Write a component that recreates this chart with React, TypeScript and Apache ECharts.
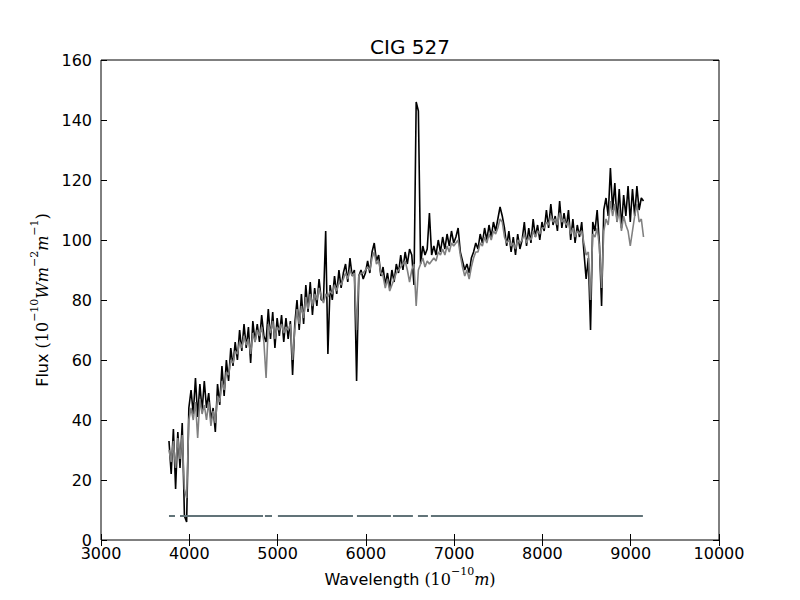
import React, { useEffect, useRef } from "react";
import * as echarts from "echarts";

// Wavelength sampling grid of the spectrum (Angstrom)
const WL_START = 3770;
const WL_STEP = 25;

// Observed flux (black), one row per 250 Angstrom
const observedFlux: number[] = [
  33, 22, 37, 17, 36, 24, 39, 8, 6, 44,
  50, 42, 54, 41, 52, 43, 53, 44, 49, 40,
  44, 36, 52, 45, 58, 48, 60, 53, 64, 58,
  66, 60, 70, 63, 72, 64, 71, 59, 73, 66,
  72, 66, 75, 68, 66, 77, 67, 76, 64, 74,
  68, 75, 66, 74, 67, 73, 55, 72, 80, 70,
  82, 72, 85, 76, 86, 75, 84, 78, 87, 80,
  80, 103, 62, 85, 80, 88, 82, 90, 84, 89,
  92, 86, 94, 88, 90, 53, 88, 90, 87, 89,
  93, 89, 96, 99, 93, 95, 88, 91, 85, 89,
  84, 90, 86, 92, 89, 95, 90, 96, 92, 97,
  95, 85, 146, 143, 92, 98, 95, 97, 109, 95,
  98, 95, 100, 96, 101, 97, 102, 98, 103, 99,
  101, 104, 96, 93, 90, 92, 89, 94, 96, 99,
  97, 102, 99, 104, 100, 105, 101, 106, 103, 107,
  111, 108, 104, 98, 103, 96, 101, 95, 102, 97,
  100, 106, 98, 104, 99, 107, 101, 105, 100, 106,
  103, 110, 104, 112, 105, 108, 103, 113, 104, 109,
  104, 110, 100, 107, 99, 105, 101, 106, 96, 87,
  94, 70, 106, 103, 110, 99, 78, 110, 114, 108,
  124, 110, 119, 106, 117, 104, 115, 108, 118, 106,
  117, 108, 118, 110, 114, 113,
];

// Model flux (grey)
const modelFlux: number[] = [
  30, 26, 33, 24, 34, 27, 35, 17, 14, 40,
  44, 40, 46, 34, 47, 42, 45, 40, 46, 38,
  43, 39, 48, 46, 53, 50, 56, 55, 60, 59,
  63, 62, 66, 64, 68, 65, 67, 62, 69, 66,
  70, 68, 71, 66, 54, 72, 69, 73, 67, 71,
  70, 72, 69, 71, 70, 72, 60, 70, 77, 72,
  78, 74, 81, 77, 82, 78, 82, 80, 84, 81,
  79, 82, 81, 83, 82, 85, 83, 86, 85, 87,
  89, 87, 90, 88, 89, 70, 88, 89, 89, 90,
  91, 90, 94, 96, 92, 93, 89, 88, 84, 87,
  83, 85, 87, 89, 90, 91, 92, 93, 90, 86,
  90, 92, 78, 90, 92, 94, 91, 93, 92, 93,
  94, 93, 96, 95, 97, 95, 98, 96, 99, 98,
  99, 100, 95, 91, 88, 90, 87, 91, 94, 96,
  96, 99, 98, 101, 99, 102, 100, 103, 102, 104,
  107, 106, 101, 99, 100, 98, 99, 97, 100, 99,
  100, 102, 99, 101, 100, 103, 101, 103, 102, 104,
  104, 106, 105, 108, 106, 107, 105, 109, 106, 107,
  105, 106, 102, 104, 101, 103, 102, 103, 99, 95,
  96, 80, 102, 101, 104, 98, 84, 103, 107, 105,
  113, 108, 112, 106, 110, 103, 108, 105, 103, 98,
  103, 108, 112, 106, 107, 101,
];

// Masked-region indicator line (level and wavelength segments)
const maskLevel = 8;
const maskSegments: [number, number][] = [
  [3770, 3838],
  [3895, 4835],
  [4857, 4937],
  [5004, 5854],
  [5899, 6284],
  [6307, 6533],
  [6590, 6703],
  [6737, 9138],
];

const X_MIN = 3000;
const X_MAX = 10000;
const X_STEP = 1000;
const Y_MIN = 0;
const Y_MAX = 160;
const Y_STEP = 20;

const TITLE = "CIG 527";

export default function App() {
  const ref = useRef<HTMLDivElement>(null);

  useEffect(() => {
    document.body.style.margin = "0";
    if (!ref.current) return;
    const chart = echarts.init(ref.current, null, { renderer: "svg" });

    const wavelengths = observedFlux.map((_, i) => WL_START + i * WL_STEP);
    const obsData = wavelengths.map((w, i) => [w, observedFlux[i]]);
    const modData = wavelengths.map((w, i) => [w, modelFlux[i]]);
    const maskData: any[] = [];
    maskSegments.forEach(([a, b]) => {
      maskData.push([a, maskLevel]);
      maskData.push([b, maskLevel]);
      maskData.push([b, null]);
    });

    const sans = "DejaVu Sans";
    const serif = "DejaVu Serif";
    const tickStyle = { color: "#000", width: 1 };
    const plain = (v: number) => String(v);

    const richBase = {
      t: { fontFamily: sans, fontSize: 16, color: "#000", lineHeight: 22, verticalAlign: "bottom" as const },
      n: { fontFamily: serif, fontSize: 16, color: "#000", lineHeight: 22, verticalAlign: "bottom" as const },
      i: { fontFamily: serif, fontStyle: "italic" as const, fontSize: 16, color: "#000", lineHeight: 22, verticalAlign: "bottom" as const },
      s: { fontFamily: serif, fontSize: 11, color: "#000", lineHeight: 22, verticalAlign: "top" as const },
    };

    const option: any = {
      animation: false,
      backgroundColor: "#fff",
      grid: {
        left: 101,
        right: 81,
        top: 60,
        bottom: 60,
        show: true,
        borderColor: "#000",
        borderWidth: 1,
        backgroundColor: "transparent",
      },
      graphic: [
        {
          type: "text",
          x: 410,
          y: 47,
          style: {
            text: TITLE,
            fontFamily: sans,
            fontSize: 20,
            fill: "#000",
            align: "center",
            verticalAlign: "middle",
          },
        },
      ],
      xAxis: [
        {
          type: "value",
          min: X_MIN,
          max: X_MAX,
          interval: X_STEP,
          position: "bottom",
          axisLine: { show: false },
          axisTick: { show: true, inside: true, length: 6, lineStyle: tickStyle },
          axisLabel: { color: "#000", fontSize: 16, fontFamily: sans, margin: 5, formatter: plain },
          splitLine: { show: false },
          name: "{t|Wavelength }{n|(10}{s|−10}{i|m}{n|)}",
          nameLocation: "middle",
          nameGap: 25,
          nameTextStyle: { rich: richBase, verticalAlign: "top" },
        },
        {
          type: "value",
          min: X_MIN,
          max: X_MAX,
          interval: X_STEP,
          position: "top",
          axisLine: { show: false },
          axisTick: { show: true, inside: true, length: 6, lineStyle: tickStyle },
          axisLabel: { show: false },
          splitLine: { show: false },
        },
      ],
      yAxis: [
        {
          type: "value",
          min: Y_MIN,
          max: Y_MAX,
          interval: Y_STEP,
          position: "left",
          axisLine: { show: false },
          axisTick: { show: true, inside: true, length: 6, lineStyle: tickStyle },
          axisLabel: { color: "#000", fontSize: 16, fontFamily: sans, margin: 9, formatter: plain },
          splitLine: { show: false },
          name: "{t|Flux }{n|(10}{s|−10}{i|Wm}{s|−2}{i|m}{s|−1}{n|)}",
          nameLocation: "middle",
          nameGap: 46,
          nameRotate: 90,
          nameTextStyle: { rich: richBase },
        },
        {
          type: "value",
          min: Y_MIN,
          max: Y_MAX,
          interval: Y_STEP,
          position: "right",
          axisLine: { show: false },
          axisTick: { show: true, inside: true, length: 6, lineStyle: tickStyle },
          axisLabel: { show: false },
          splitLine: { show: false },
        },
      ],
      series: [
        {
          type: "line",
          name: "observed",
          data: obsData,
          symbol: "none",
          lineStyle: { color: "#000", width: 1.6 },
          z: 2,
        },
        {
          type: "line",
          name: "model",
          data: modData,
          symbol: "none",
          lineStyle: { color: "#808080", width: 1.6 },
          z: 3,
        },
        {
          type: "line",
          name: "mask",
          data: maskData,
          symbol: "none",
          connectNulls: false,
          lineStyle: { color: "#617378", width: 2 },
          z: 4,
        },
      ],
    };

    chart.setOption(option);
    return () => chart.dispose();
  }, []);

  return <div ref={ref} style={{ width: 800, height: 600 }} />;
}
